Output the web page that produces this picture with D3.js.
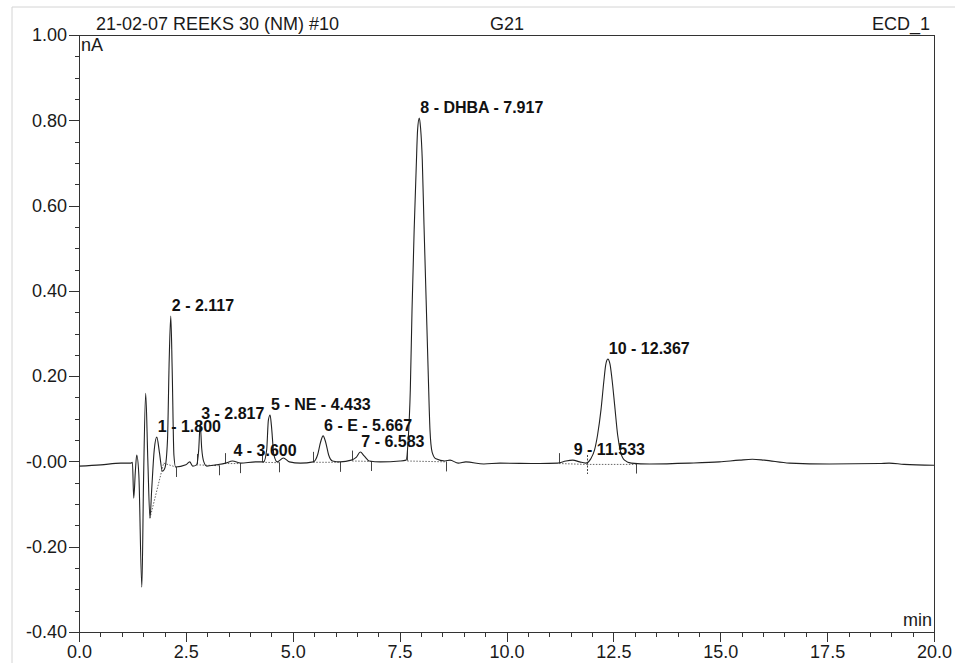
<!DOCTYPE html>
<html>
<head>
<meta charset="utf-8">
<title>G21 ECD_1</title>
<style>
body { margin: 0; background: #fff; }
svg { display: block; font-family: "Liberation Sans", Arial, sans-serif; }
.axis path, .axis line { fill: none; stroke: #333; shape-rendering: crispEdges; }
.axis text { font-size: 18px; fill: #1a1a1a; }
.peak-label { font-size: 16px; font-weight: bold; fill: #111; }
.head { font-size: 18px; fill: #1a1a1a; }
</style>
</head>
<body>
<script src="https://cdn.jsdelivr.net/npm/d3@7"></script>
<script>
// detector trace (min, nA)
var traceTime = [0, 0.51, 0.98, 1.21, 1.25, 1.28, 1.32, 1.35, 1.40, 1.47,
  1.51, 1.56, 1.61, 1.66, 1.70, 1.76, 1.82, 1.88, 1.95, 2.01,
  2.07, 2.11, 2.147, 2.18, 2.22, 2.26, 2.50, 2.59, 2.66, 2.75,
  2.80, 2.835, 2.87, 2.92, 2.99, 3.20, 3.43, 3.59, 3.78, 4.13,
  4.32, 4.39, 4.43, 4.47, 4.50, 4.56, 4.64, 4.78, 4.92, 5.18,
  5.48, 5.58, 5.65, 5.71, 5.77, 5.84, 5.93, 6.11, 6.37, 6.49,
  6.58, 6.67, 6.79, 7.05, 7.51, 7.65, 7.70, 7.75, 7.79, 7.84,
  7.89, 7.92, 7.96, 7.99, 8.03, 8.07, 8.12, 8.17, 8.21, 8.26,
  8.35, 8.56, 8.68, 8.87, 9.05, 9.47, 9.85, 10.78, 11.20, 11.39,
  11.55, 11.71, 11.85, 11.97, 12.06, 12.13, 12.21, 12.28, 12.32, 12.37,
  12.42, 12.47, 12.53, 12.60, 12.67, 12.76, 12.92, 13.35, 14.28, 14.98,
  15.45, 15.75, 16.03, 16.62, 17.55, 18.72, 18.95, 19.30, 20.0];
var traceValue = [-0.011, -0.008, -0.004, -0.004, -0.002, -0.086, -0.020, 0.015, -0.032, -0.295,
  -0.044, 0.160, 0.003, -0.133, -0.067, 0.027, 0.057, 0.022, -0.023, -0.015,
  0.050, 0.238, 0.341, 0.214, 0.015, -0.013, -0.008, -0.001, -0.011, -0.008,
  0.027, 0.088, 0.031, -0.001, -0.011, -0.008, -0.004, 0.001, -0.004, -0.001,
  -0.001, 0.027, 0.097, 0.109, 0.085, 0.015, -0.001, 0.008, -0.001, -0.004,
  -0.001, 0.015, 0.045, 0.060, 0.045, 0.015, 0.001, -0.001, 0.003, 0.010,
  0.022, 0.013, 0.001, -0.001, 0.001, 0.003, 0.050, 0.168, 0.355, 0.543,
  0.695, 0.777, 0.805, 0.782, 0.707, 0.555, 0.379, 0.203, 0.074, 0.022,
  0.006, 0.001, 0.003, -0.004, -0.001, -0.006, -0.004, -0.005, -0.004, 0.001,
  0.003, -0.001, -0.004, 0.006, 0.027, 0.062, 0.121, 0.191, 0.226, 0.240,
  0.229, 0.191, 0.132, 0.062, 0.022, 0.003, -0.004, -0.006, -0.004, -0.001,
  0.003, 0.005, 0.003, -0.004, -0.006, -0.005, -0.004, -0.007, -0.009];

// named peaks
var peakLabels = ["1 - 1.800", "2 - 2.117", "3 - 2.817", "4 - 3.600", "5 - NE - 4.433",
  "6 - E - 5.667", "7 - 6.583", "8 - DHBA - 7.917", "9 - 11.533", "10 - 12.367"];
var peakApexTime = [1.82, 2.147, 2.835, 3.59, 4.47, 5.71, 6.58, 7.96, 11.55, 12.37];
var peakApexValue = [0.057, 0.341, 0.088, 0.001, 0.109, 0.060, 0.022, 0.805, 0.003, 0.240];

// integration delimiters
var markTimes = [2.26, 2.75, 3.27, 3.41, 3.76, 4.29, 4.69, 5.48, 6.11, 6.39, 6.84, 7.68, 8.59, 11.23, 11.88, 13.02];
var markLevels = [-0.013, -0.006, -0.009, -0.004, -0.004, -0.001, -0.002, -0.001, -0.001, 0.002, 0.001, 0.002, 0.000, -0.004, -0.006, -0.005];
var markSides = ["down", "up", "down", "up", "down", "up", "down", "up", "down", "up", "down", "up", "down", "up", "both", "down"];

// dotted integration baselines
var baselineFrom = [[1.66, -0.133], [1.98, -0.004], [2.75, -0.008], [3.41, -0.005], [4.29, -0.002], [5.48, -0.002], [6.39, 0.001], [7.68, 0.001], [11.23, -0.005], [11.88, -0.007]];
var baselineTo = [[1.98, -0.004], [2.26, -0.013], [3.27, -0.010], [3.76, -0.005], [4.69, -0.003], [6.11, -0.002], [6.84, 0.000], [8.59, -0.001], [11.88, -0.007], [13.02, -0.007]];

var xTicks = [0, 2.5, 5, 7.5, 10, 12.5, 15, 17.5, 20];
var xTickLabels = ["0.0", "2.5", "5.0", "7.5", "10.0", "12.5", "15.0", "17.5", "20.0"];
var yTicks = [-0.4, -0.2, 0, 0.2, 0.4, 0.6, 0.8, 1.0];
var yTickLabels = ["-0.40", "-0.20", "-0.00", "0.20", "0.40", "0.60", "0.80", "1.00"];

var W = 955, H = 663;

var x = d3.scaleLinear().domain([0, 20]).range([79, 934]);
var y = d3.scaleLinear().domain([-0.4, 1.0]).range([632, 35]);

var svg = d3.select("body").append("svg")
    .attr("width", W)
    .attr("height", H);

// scanned page edge
svg.append("path")
    .attr("d", "M12," + H + "V7H" + W)
    .style("fill", "none")
    .style("stroke", "#d4d4d4");

// frame top / right
svg.append("path")
    .attr("d", "M" + x(0) + "," + y(1) + "H" + x(20) + "V" + y(-0.4))
    .style("fill", "none")
    .style("stroke", "#333")
    .style("shape-rendering", "crispEdges");

// minor ticks
svg.append("g")
    .attr("class", "axis")
    .attr("transform", "translate(" + x(0) + ",0)")
    .call(d3.axisLeft(y).tickValues(d3.range(-0.4, 1.0001, 0.05)).tickSize(4).tickFormat(""));

svg.append("g")
    .attr("class", "axis")
    .attr("transform", "translate(0," + y(-0.4) + ")")
    .call(d3.axisBottom(x).tickValues(d3.range(0, 20.001, 0.5)).tickSize(5).tickFormat(""));

svg.append("g")
    .attr("class", "axis")
    .attr("transform", "translate(" + x(0) + ",0)")
    .call(d3.axisLeft(y).tickValues(yTicks).tickSize(10).tickPadding(2)
      .tickFormat(function(d, i) { return yTickLabels[i]; }));

svg.append("g")
    .attr("class", "axis")
    .attr("transform", "translate(0," + y(-0.4) + ")")
    .call(d3.axisBottom(x).tickValues(xTicks).tickSize(10).tickPadding(3)
      .tickFormat(function(d, i) { return xTickLabels[i]; }));

// header
svg.append("text").attr("class", "head").attr("x", 96).attr("y", 30).text("21-02-07 REEKS 30 (NM) #10");
svg.append("text").attr("class", "head").attr("x", 490).attr("y", 30).text("G21");
svg.append("text").attr("class", "head").attr("x", 930).attr("y", 30).style("text-anchor", "end").text("ECD_1");
svg.append("text").attr("class", "head").attr("x", x(0) + 2).attr("y", 51).text("nA");
svg.append("text").attr("class", "head").attr("x", x(20) - 2).attr("y", y(-0.4) - 6).style("text-anchor", "end").text("min");

// dotted baselines
svg.selectAll(".bl")
    .data(baselineFrom)
  .enter().append("line")
    .attr("class", "bl")
    .attr("x1", function(d) { return x(d[0]); })
    .attr("y1", function(d) { return y(d[1]); })
    .attr("x2", function(d, i) { return x(baselineTo[i][0]); })
    .attr("y2", function(d, i) { return y(baselineTo[i][1]); })
    .style("stroke", "#666")
    .style("stroke-width", 1)
    .style("stroke-dasharray", "1.5,1.5");

// delimiters
svg.selectAll(".mark")
    .data(markTimes)
  .enter().append("line")
    .attr("class", "mark")
    .attr("x1", function(d) { return Math.round(x(d)) + 0.5; })
    .attr("x2", function(d) { return Math.round(x(d)) + 0.5; })
    .attr("y1", function(d, i) { return markSides[i] == "up" ? y(markLevels[i]) - 10 : (markSides[i] == "both" ? y(markLevels[i]) - 9 : y(markLevels[i])); })
    .attr("y2", function(d, i) { return markSides[i] == "up" ? y(markLevels[i]) : y(markLevels[i]) + 10; })
    .style("stroke", "#444")
    .style("stroke-dasharray", function(d, i) { return markSides[i] == "both" ? "2,1.5" : null; });

// trace
var line = d3.line()
    .x(function(d) { return x(d[0]); })
    .y(function(d) { return y(d[1]); })
    .curve(d3.curveMonotoneX);

svg.append("path")
    .datum(traceTime.map(function(t, i) { return [t, traceValue[i]]; }))
    .attr("d", line)
    .style("fill", "none")
    .style("stroke", "#222")
    .style("stroke-width", 1.1);

// peak labels
svg.selectAll(".peak-label")
    .data(peakLabels)
  .enter().append("text")
    .attr("class", "peak-label")
    .attr("x", function(d, i) { return x(peakApexTime[i]) + 1; })
    .attr("y", function(d, i) { return y(peakApexValue[i]) - 5; })
    .text(function(d) { return d; });
</script>
</body>
</html>
